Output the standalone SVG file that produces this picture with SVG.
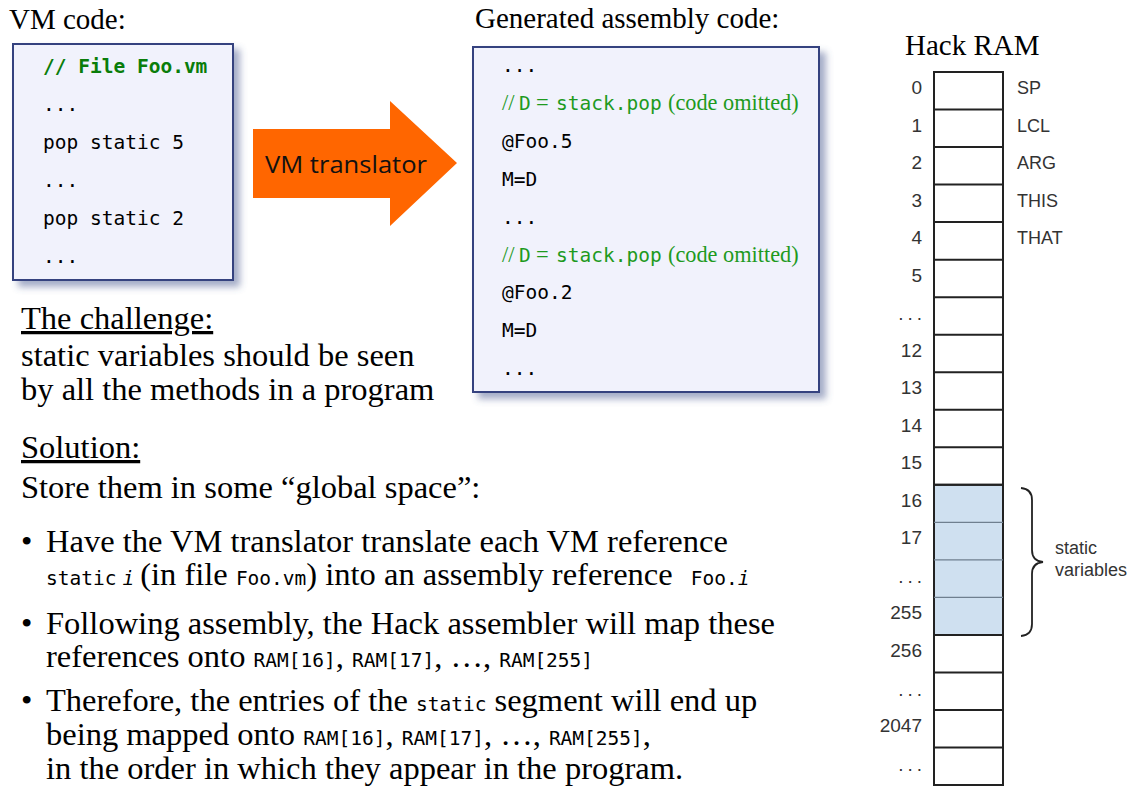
<svg xmlns="http://www.w3.org/2000/svg" width="1148" height="809" viewBox="0 0 1148 809">
<defs>
<filter id="shadow" x="-10%" y="-10%" width="130%" height="130%">
<feGaussianBlur in="SourceAlpha" stdDeviation="3.5"/>
<feOffset dx="6" dy="6" result="b"/>
<feFlood flood-color="#4a5a90" flood-opacity="0.5"/>
<feComposite in2="b" operator="in"/>
<feMerge><feMergeNode/><feMergeNode in="SourceGraphic"/></feMerge>
</filter>
</defs>
<style>
.serif{font-family:"Liberation Serif","Times New Roman",serif;fill:#000}
.title{font-size:29px}
.body{font-size:32.5px}
.mono{font-family:"DejaVu Sans Mono","Liberation Mono",monospace;fill:#000}
.code{font-size:19.5px}
.inl{font-size:19.5px}
.box{fill:#f1f2fc;stroke:#34437f;stroke-width:2;filter:url(#shadow)}
.cmt{fill:#1e9a1e}
.cell{fill:#fff;stroke:#222;stroke-width:2}
.scell{fill:#cfe0f0;stroke:#222;stroke-width:2}
.sep{stroke:#6f7f8f;stroke-width:1.2}
.num{font-family:"Liberation Sans",Arial,sans-serif;font-size:19px;fill:#333;text-anchor:end}
.lab{font-family:"Liberation Sans",Arial,sans-serif;font-size:18px;fill:#333}
</style>
<rect width="1148" height="809" fill="#fff"/>

<g id="vm-code">
<text class="serif title" x="9" y="29">VM code:</text>
<rect class="box" x="13" y="44" width="220" height="236"/>
<text class="mono code" x="43" y="73" font-weight="bold" style="fill:#0a7d0a">// File Foo.vm</text>
<text class="mono code" x="43" y="111">...</text>
<text class="mono code" x="43" y="149">pop static 5</text>
<text class="mono code" x="43" y="187">...</text>
<text class="mono code" x="43" y="225">pop static 2</text>
<text class="mono code" x="43" y="263">...</text>
</g>

<g id="connectors">
<g id="vm-translator">
<polygon points="253,129 390,129 390,101 457,163 390,226 390,198 253,198" fill="#ff6600"/>
<text x="265" y="173" font-family="Open Sans, Liberation Sans, sans-serif" font-size="24" fill="#111" textLength="162" lengthAdjust="spacingAndGlyphs">VM translator</text>
</g>
</g>

<g id="asm-code">
<text class="serif title" x="475" y="28">Generated assembly code:</text>
<rect class="box" x="473" y="47" width="346" height="345"/>
<text class="mono code" x="502" y="72">...</text>
<text y="110" class="cmt"><tspan class="serif cmt" x="502" font-size="22.5">//</tspan><tspan class="mono cmt" x="519" font-size="19.5">D</tspan><tspan class="serif cmt" x="536" font-size="22.5">=</tspan><tspan class="mono cmt" x="556" font-size="19.5">stack.pop</tspan><tspan class="serif cmt" x="668" font-size="22.3">(code omitted)</tspan></text>
<text class="mono code" x="502" y="148">@Foo.5</text>
<text class="mono code" x="502" y="186">M=D</text>
<text class="mono code" x="502" y="224">...</text>
<text y="262" class="cmt"><tspan class="serif cmt" x="502" font-size="22.5">//</tspan><tspan class="mono cmt" x="519" font-size="19.5">D</tspan><tspan class="serif cmt" x="536" font-size="22.5">=</tspan><tspan class="mono cmt" x="556" font-size="19.5">stack.pop</tspan><tspan class="serif cmt" x="668" font-size="22.3">(code omitted)</tspan></text>
<text class="mono code" x="502" y="299">@Foo.2</text>
<text class="mono code" x="502" y="337">M=D</text>
<text class="mono code" x="502" y="375">...</text>
</g>

<g id="challenge">
<text class="serif body" x="21" y="329" text-decoration="underline">The challenge:</text>
<text class="serif body" x="21" y="366">static variables should be seen</text>
<text class="serif body" x="21" y="400">by all the methods in a program</text>
</g>

<g id="solution">
<text class="serif body" x="21" y="458" text-decoration="underline">Solution:</text>
<text class="serif body" x="21" y="498">Store them in some “global space”:</text>
<text class="serif body" x="21" y="552">•</text>
<text class="serif body" x="46" y="552">Have the VM translator translate each VM reference</text>
<text class="serif body" x="46" y="585"><tspan class="mono inl">static</tspan><tspan class="mono inl" font-style="italic" dx="6">i</tspan><tspan dx="6">(in file </tspan><tspan class="mono inl">Foo.vm</tspan><tspan>) into an assembly reference </tspan><tspan class="mono inl" dx="10">Foo.</tspan><tspan class="mono inl" font-style="italic">i</tspan></text>
<text class="serif body" x="21" y="634">•</text>
<text class="serif body" x="46" y="634">Following assembly, the Hack assembler will map these</text>
<text class="serif body" x="46" y="667">references onto <tspan class="mono inl">RAM[16]</tspan>, <tspan class="mono inl">RAM[17]</tspan>, …, <tspan class="mono inl">RAM[255]</tspan></text>
<text class="serif body" x="21" y="711">•</text>
<text class="serif body" x="46" y="711">Therefore, the entries of the <tspan class="mono inl">static</tspan> segment will end up</text>
<text class="serif body" x="46" y="745">being mapped onto <tspan class="mono inl">RAM[16]</tspan>, <tspan class="mono inl">RAM[17]</tspan>, …, <tspan class="mono inl">RAM[255]</tspan>,</text>
<text class="serif body" x="46" y="779">in the order in which they appear in the program.</text>
</g>

<g id="hack-ram">
<text class="serif title" x="905" y="55">Hack RAM</text>
<rect class="cell" x="934" y="72" width="69" height="713"/>
<rect class="scell" x="934" y="484.8" width="69" height="150.2"/>
<g stroke="#222" stroke-width="2">
<line x1="934" y1="109.5" x2="1003" y2="109.5"/>
<line x1="934" y1="147.1" x2="1003" y2="147.1"/>
<line x1="934" y1="184.6" x2="1003" y2="184.6"/>
<line x1="934" y1="222.1" x2="1003" y2="222.1"/>
<line x1="934" y1="259.7" x2="1003" y2="259.7"/>
<line x1="934" y1="297.2" x2="1003" y2="297.2"/>
<line x1="934" y1="334.7" x2="1003" y2="334.7"/>
<line x1="934" y1="372.2" x2="1003" y2="372.2"/>
<line x1="934" y1="409.8" x2="1003" y2="409.8"/>
<line x1="934" y1="447.3" x2="1003" y2="447.3"/>
<line x1="934" y1="484.8" x2="1003" y2="484.8"/>
<line x1="934" y1="635" x2="1003" y2="635"/>
<line x1="934" y1="672.5" x2="1003" y2="672.5"/>
<line x1="934" y1="710" x2="1003" y2="710"/>
<line x1="934" y1="747.5" x2="1003" y2="747.5"/>
</g>
<line class="sep" x1="934" y1="522.4" x2="1003" y2="522.4"/>
<line class="sep" x1="934" y1="559.9" x2="1003" y2="559.9"/>
<line class="sep" x1="934" y1="597.4" x2="1003" y2="597.4"/>
<text class="num" x="922" y="94">0</text>
<text class="num" x="922" y="131.5">1</text>
<text class="num" x="922" y="169">2</text>
<text class="num" x="922" y="206.6">3</text>
<text class="num" x="922" y="244">4</text>
<text class="num" x="922" y="281.7">5</text>
<text class="num" x="926" y="320" letter-spacing="4">...</text>
<text class="num" x="922" y="356.7">12</text>
<text class="num" x="922" y="394">13</text>
<text class="num" x="922" y="431.8">14</text>
<text class="num" x="922" y="469.3">15</text>
<text class="num" x="922" y="506.8">16</text>
<text class="num" x="922" y="544.4">17</text>
<text class="num" x="926" y="583" letter-spacing="4">...</text>
<text class="num" x="922" y="619.4">255</text>
<text class="num" x="922" y="657">256</text>
<text class="num" x="926" y="695.5" letter-spacing="4">...</text>
<text class="num" x="922" y="732">2047</text>
<text class="num" x="926" y="770.5" letter-spacing="4">...</text>
<text class="lab" x="1017" y="94">SP</text>
<text class="lab" x="1017" y="131.5">LCL</text>
<text class="lab" x="1017" y="169">ARG</text>
<text class="lab" x="1017" y="206.6">THIS</text>
<text class="lab" x="1017" y="244">THAT</text>
</g>

<g id="static-variables">
<path d="M1021,488 Q1032,489 1032,500 L1032,550 Q1032,561 1043,562 Q1032,563 1032,574 L1032,624 Q1032,635 1021,636" fill="none" stroke="#222" stroke-width="1.8"/>
<text class="lab" x="1055" y="554">static</text>
<text class="lab" x="1055" y="576">variables</text>
</g>
</svg>
